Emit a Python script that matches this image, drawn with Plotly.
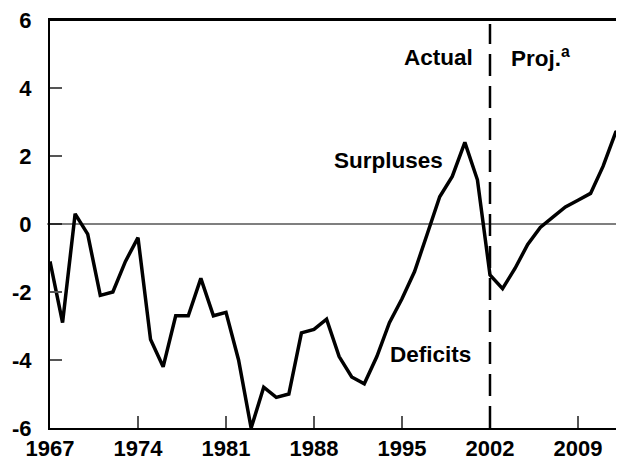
import plotly.graph_objects as go

years = list(range(1967, 2014))
balance = [-1.1, -2.9, 0.3, -0.3, -2.1, -2.0, -1.1, -0.4, -3.4, -4.2,
           -2.7, -2.7, -1.6, -2.7, -2.6, -4.0, -6.0, -4.8, -5.1, -5.0,
           -3.2, -3.1, -2.8, -3.9, -4.5, -4.7, -3.9, -2.9, -2.2, -1.4,
           -0.3, 0.8, 1.4, 2.4, 1.3, -1.5, -1.9, -1.3, -0.6, -0.1,
           0.2, 0.5, 0.7, 0.9, 1.7, 2.7, 2.8]
x_ticks = [1967, 1974, 1981, 1988, 1995, 2002, 2009]
y_ticks = [-6, -4, -2, 0, 2, 4, 6]
y_labels = ["-6", "-4", "-2", "0", "2", "4", "6"]
divider_year = 2002

FONT = "Liberation Sans, Arial, sans-serif"

fig = go.Figure()
fig.add_trace(go.Scatter(x=years, y=balance, mode="lines",
                         line=dict(color="black", width=3.5), showlegend=False,
                         hoverinfo="skip"))

fig.add_shape(type="line", xref="x", yref="paper", x0=divider_year, x1=divider_year,
              y0=0, y1=0.99, line=dict(color="black", width=2.5, dash="22px,10px"))
fig.add_shape(type="line", xref="paper", yref="y", x0=-0.005, x1=1, y0=0, y1=0,
              line=dict(color="black", width=1.2))
# top frame line
fig.add_shape(type="line", xref="paper", yref="paper", x0=0, x1=1, y0=1, y1=1,
              line=dict(color="black", width=2), layer="above")

ann_font = dict(family=FONT, size=22.5, color="black")
fig.add_annotation(x=2000.8, y=4.9, text="<b>Actual</b>", showarrow=False,
                   xanchor="right", yanchor="middle", font=ann_font)
fig.add_annotation(x=2003.5, y=4.9, text="<b>Proj.<sup>a</sup></b>", showarrow=False,
                   xanchor="left", yanchor="middle", font=ann_font)
fig.add_annotation(x=1993.9, y=1.86, text="<b>Surpluses</b>", showarrow=False,
                   xanchor="center", yanchor="middle", font=ann_font)
fig.add_annotation(x=1997.27, y=-3.85, text="<b>Deficits</b>", showarrow=False,
                   xanchor="center", yanchor="middle", font=ann_font)

fig.update_xaxes(range=[1967, 2012.66], tickvals=x_ticks,
                 ticktext=[f"<b>{v}</b>" for v in x_ticks],
                 ticks="inside", ticklen=12, tickwidth=1.5, tickcolor="#555",
                 showline=True, linecolor="black", linewidth=2, mirror=True,
                 showgrid=False, zeroline=False, ticklabeloverflow="allow",
                 tickfont=dict(family=FONT, size=22, color="black"))
fig.update_yaxes(range=[-6, 6], tickvals=y_ticks,
                 ticktext=[f"<b>{v}</b>" for v in y_labels],
                 ticks="inside", ticklen=12, tickwidth=1.5, tickcolor="#555",
                 showline=True, linecolor="black", linewidth=2, mirror=False,
                 showgrid=False, zeroline=False, ticklabelstandoff=12,
                 ticklabeloverflow="allow",
                 tickfont=dict(family=FONT, size=22, color="black"))

# the page body adds an 8px offset, so the figure is 8px smaller on each side
fig.update_layout(width=616, height=453, margin=dict(l=42, r=0, t=10, b=32),
                  plot_bgcolor="white", paper_bgcolor="white")

fig.write_html("out.html")
